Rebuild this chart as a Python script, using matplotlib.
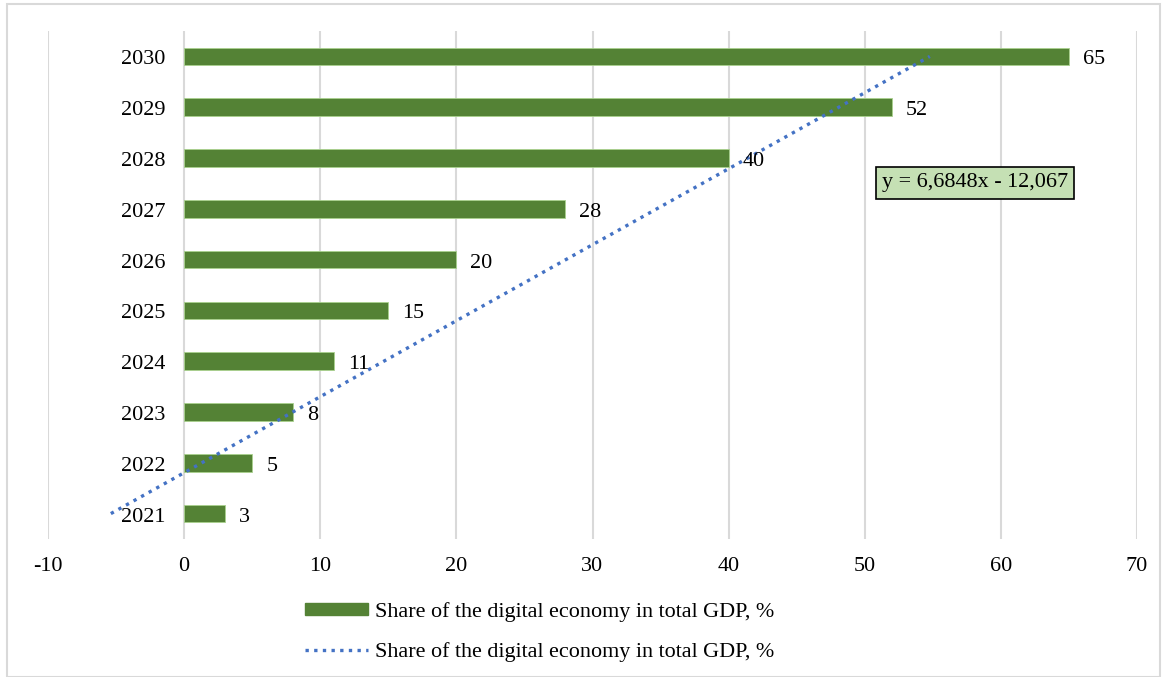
import numpy as np
import matplotlib
matplotlib.use("Agg")
import matplotlib.pyplot as plt
from matplotlib.patches import Rectangle
from matplotlib.lines import Line2D
from matplotlib.transforms import offset_copy

plt.rcParams['font.family'] = ['Liberation Serif', 'DejaVu Serif']

years = ["2021", "2022", "2023", "2024", "2025", "2026", "2027", "2028", "2029", "2030"]
values = [3, 5, 8, 11, 15, 20, 28, 40, 52, 65]
series_label = "Share of the digital economy in total GDP, %"
x_ticks = [-10, 0, 10, 20, 30, 40, 50, 60, 70]

bar_color = "#548235"
trend_color = "#4472C4"
grid_color = "#D9D9D9"
fs = 15.9

fig = plt.figure(figsize=(11.62, 6.77), dpi=100)
W, H = 1162, 677
ax = fig.add_axes([48 / W, 1 - 539 / H, (1137 - 48) / W, (539 - 31) / H])

pos = np.arange(len(years))
ax.barh(pos, values, height=0.35, color=bar_color, edgecolor="#A9D18E", linewidth=0.6, zorder=2)

# linear trendline (Excel-style, x = category index 1..n)
idx = pos + 1
slope, intercept = np.polyfit(idx, values, 1)
trend = slope * idx + intercept
ax.plot(trend, pos, color=trend_color, linestyle=(0, (1, 1.6)), linewidth=2.4, zorder=3)

ax.set_xlim(-10, 70)
ax.set_ylim(-0.5, len(years) - 0.5)
ax.set_xticks(x_ticks)
ax.set_xticklabels([str(t) for t in x_ticks], fontsize=fs)
ax.tick_params(axis='x', length=0, pad=13)
ax.set_yticks([])
for s in ax.spines.values():
    s.set_visible(False)
ax.grid(axis='x', color=grid_color, linewidth=1.5, zorder=0)
ax.set_axisbelow(True)

# category labels at the zero line
lab_tr = offset_copy(ax.transData, fig=fig, x=-19, y=-1, units='dots')
for p, y in zip(pos, years):
    ax.text(0, p, y, transform=lab_tr, ha='right', va='center_baseline', fontsize=fs, zorder=4)

# data labels
val_tr = offset_copy(ax.transData, fig=fig, x=14, y=-1, units='dots')
for p, v in zip(pos, values):
    ax.text(v, p, str(v), transform=val_tr, ha='left', va='center_baseline', fontsize=fs, zorder=4)

# trendline equation
eq = "y = " + f"{slope:.4f}".replace('.', ',') + "x - " + f"{abs(intercept):.3f}".replace('.', ',')
fig.text(975 / W, 1 - 183 / H, eq, ha='center', va='center', fontsize=fs,
         bbox=dict(boxstyle='square,pad=0.28', facecolor='#C5E0B4', edgecolor='black', linewidth=1.2))

# legend
handles = [Rectangle((0, 0), 1, 1, facecolor=bar_color, edgecolor=bar_color),
           Line2D([0], [0], color=trend_color, linestyle=(0, (1, 1.6)), linewidth=2.4)]
fig.legend(handles, [series_label, series_label], loc='center', bbox_to_anchor=(540 / W, 1 - 632 / H),
           frameon=False, fontsize=fs, handlelength=2.85, handleheight=0.45, handletextpad=0.33,
           labelspacing=0.95)

# outer border
fig.patches.append(Rectangle((7 / W, 0), (1160 - 7) / W, 1 - 4 / H, transform=fig.transFigure,
                             fill=False, edgecolor=grid_color, linewidth=1.5))

fig.savefig("out.png", dpi=100)
